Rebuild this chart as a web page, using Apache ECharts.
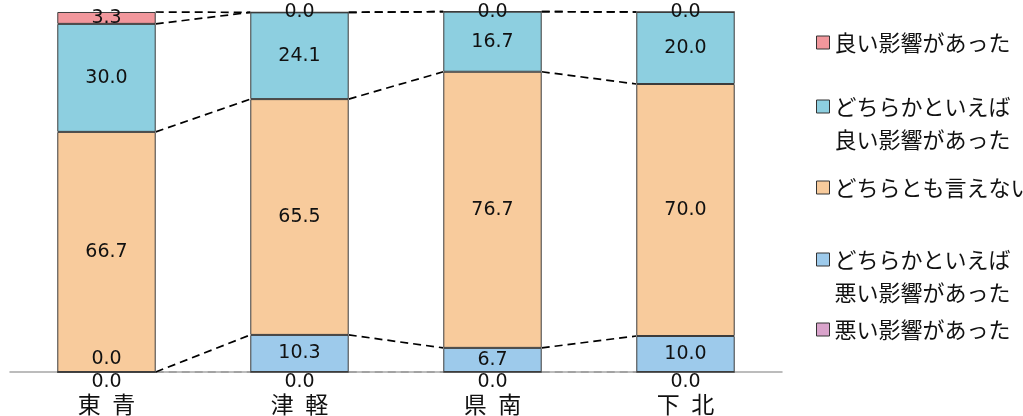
<!DOCTYPE html>
<html><head><meta charset="utf-8">
<script src="https://cdn.jsdelivr.net/npm/echarts@6/dist/echarts.min.js"></script>
<style>html,body{margin:0;padding:0;background:#fff}#c{width:1023px;height:416px}</style>
</head><body><div id="c"></div>
<script>
const categories = ['東 青', '津 軽', '県 南', '下 北'];
const seriesNames = ['悪い影響があった', 'どちらかといえば\n悪い影響があった', 'どちらとも言えない', 'どちらかといえば\n良い影響があった', '良い影響があった'];
const bad = [0.0, 0.0, 0.0, 0.0];
const ratherBad = [0.0, 10.3, 6.7, 10.0];
const neutral = [66.7, 65.5, 76.7, 70.0];
const ratherGood = [30.0, 24.1, 16.7, 20.0];
const good = [3.3, 0.0, 0.0, 0.0];
const colors = ['#D9A3CB', '#9DCAEB', '#F8CB9C', '#8DCFE0', '#F1979C'];

const allSeries = [bad, ratherBad, neutral, ratherGood, good];
const cum = [];
let run = categories.map(() => 0);
allSeries.forEach(s => { run = run.map((v, i) => v + s[i]); cum.push(run.slice()); });

const FONT = '"Noto Sans CJK JP", "Noto Sans", sans-serif';
const NUMFONT = '"DejaVu Sans", sans-serif';
const BARFRAC = 0.51;

const barSeries = allSeries.map((arr, k) => {
  let data = arr;
  let pos = 'inside', dist = 5;
  if (k === 0) { pos = 'bottom'; dist = 0; }
  if (k === 1) data = arr.map(v => v === 0 ? { value: v, label: { position: 'top', distance: 3 } } : v);
  return {
    name: seriesNames[k], type: 'bar', stack: 'total', data: data, clip: false,
    barCategoryGap: ((1 - BARFRAC) * 100) + '%',
    itemStyle: { color: colors[k], borderColor: '#3c3c3c', borderWidth: 1 },
    label: { show: true, position: pos, distance: dist, color: '#111', fontSize: 19, fontFamily: NUMFONT,
      formatter: p => Number(p.value).toFixed(1) },
    labelLayout: { hideOverlap: false },
    emphasis: { disabled: true }
  };
});

const lineData = [];
for (let i = 0; i < categories.length - 1; i++) for (let k = 0; k < allSeries.length; k++) lineData.push([i, k]);

const linesSeries = {
  type: 'custom', silent: true, z: 1, clip: false,
  data: lineData,
  encode: { x: 0, y: 1 },
  renderItem: function (params, api) {
    const i = api.value(0), k = api.value(1);
    const p1 = api.coord([i, cum[k][i]]);
    const p2 = api.coord([i + 1, cum[k][i + 1]]);
    const hw = api.size([1, 0])[0] * BARFRAC / 2;
    return { type: 'line',
      shape: { x1: p1[0] + hw, y1: p1[1], x2: p2[0] - hw, y2: p2[1] },
      style: { stroke: k === 0 ? '#9a9a9a' : '#000', lineWidth: 1.7, lineDash: [8, 5] } };
  }
};

const legendTops = [318.5, 248.5, 176.5, 95.5, 31.5];
const legends = seriesNames.map((n, k) => ({
  data: [n], left: 816, top: legendTops[k], padding: 0, orient: 'vertical',
  itemWidth: 13, itemHeight: 13, selectedMode: false,
  icon: 'rect',
  itemStyle: { borderColor: '#333', borderWidth: 1 },
  formatter: name => name.split('\n').map(s => '{t|' + s + '}').join('\n'),
  textStyle: { fontSize: 22, fontFamily: FONT, color: '#111',
    padding: n.indexOf('\n') >= 0 ? [33, 0, 0, 0] : 0,
    rich: { t: { fontSize: 22, fontFamily: FONT, color: '#111', lineHeight: 33 } } }
}));

const chart = echarts.init(document.getElementById('c'));
chart.setOption({
  animation: false,
  grid: { left: 10, right: 241, top: 12, bottom: 43 },
  legend: legends,
  xAxis: { type: 'category', data: categories,
    axisLine: { lineStyle: { color: '#a6a6a6', width: 1.5 } }, axisTick: { show: false },
    axisLabel: { fontSize: 23, fontFamily: FONT, color: '#111', margin: 21,
      formatter: v => v.split(' ').join('\u2002') } },
  yAxis: { type: 'value', min: 0, max: 100, show: false, splitLine: { show: false } },
  series: barSeries.concat([linesSeries])
});
</script></body></html>
